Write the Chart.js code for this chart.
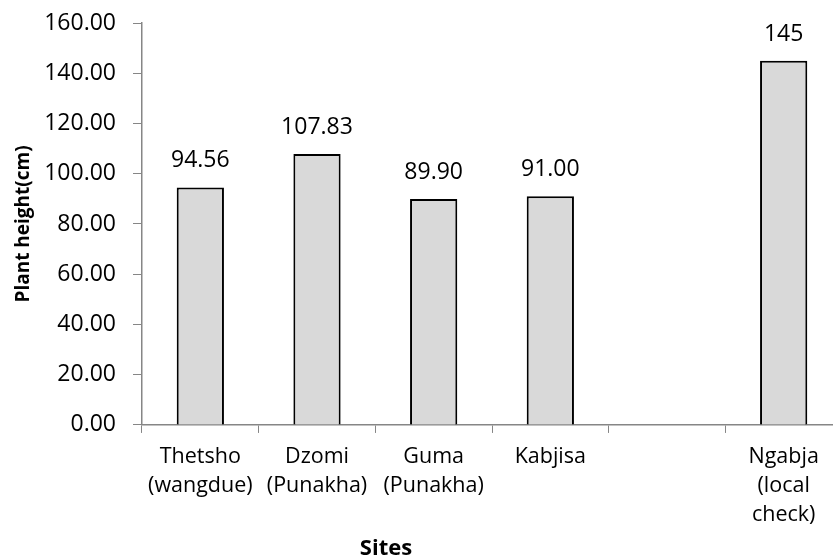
<!DOCTYPE html>
<html lang="en">
<head>
  <meta charset="UTF-8" />
  <title>Plant height by site</title>
  <script src="https://cdn.jsdelivr.net/npm/chart.js"></script>
  <style>
    html, body {
      margin: 0;
      padding: 0;
      background: #ffffff;
      overflow: hidden;
    }
    .wrap {
      position: relative;
      width: 842px;
      height: 557px;
    }
  </style>
</head>
<body>
  <div class="wrap">
    <canvas id="heightChart" width="842" height="557"></canvas>
  </div>

  <script>
    const sites = [
      ['Thetsho', '(wangdue)'],
      ['Dzomi', '(Punakha)'],
      ['Guma', '(Punakha)'],
      ['Kabjisa'],
      '',
      ['Ngabja', '(local', 'check)']
    ];
    const plantHeight = [94.56, 107.83, 89.90, 91.00, null, 145];
    const labelDigits = [2, 2, 2, 2, 2, 0];
    const yTicks = [0, 20, 40, 60, 80, 100, 120, 140, 160];

    const axisGrey = '#868686';
    const fontFamily = "'Open Sans', sans-serif";

    // value printed above each bar
    const barValues = {
      id: 'barValues',
      afterDatasetsDraw(chart) {
        const ctx = chart.ctx;
        const meta = chart.getDatasetMeta(0);
        ctx.save();
        ctx.font = '23px ' + fontFamily;
        ctx.fillStyle = '#000';
        ctx.textAlign = 'center';
        ctx.textBaseline = 'alphabetic';
        meta.data.forEach((bar, i) => {
          const v = plantHeight[i];
          if (v == null) return;
          ctx.fillText(v.toFixed(labelDigits[i]), bar.x, bar.y - 20);
        });
        ctx.restore();
      }
    };

    // "Sites" axis title sits left of the scale centre
    const sitesTitle = {
      id: 'sitesTitle',
      afterDraw(chart) {
        const ctx = chart.ctx;
        ctx.save();
        ctx.font = 'bold 22px ' + fontFamily;
        ctx.fillStyle = '#000';
        ctx.textAlign = 'center';
        ctx.textBaseline = 'alphabetic';
        ctx.fillText('Sites', chart.chartArea.left + 244, chart.height - 2);
        ctx.restore();
      }
    };

    new Chart(document.getElementById('heightChart'), {
      type: 'bar',
      data: {
        labels: sites,
        datasets: [{
          data: plantHeight,
          backgroundColor: '#d9d9d9',
          borderColor: '#000000',
          borderWidth: 2,
          barPercentage: 0.405,
          categoryPercentage: 1
        }]
      },
      options: {
        responsive: false,
        animation: false,
        layout: { padding: { top: 23, right: 0, bottom: 19, left: 0 } },
        plugins: {
          legend: { display: false },
          tooltip: { enabled: false }
        },
        scales: {
          x: {
            grid: {
              drawOnChartArea: false,
              drawTicks: true,
              tickLength: 8,
              color: axisGrey,
              offset: true
            },
            border: { color: axisGrey, width: 1.5 },
            ticks: {
              color: '#000',
              padding: 9,
              maxRotation: 0,
              autoSkip: false,
              font: { family: fontFamily, size: 21.5, lineHeight: 1.35 }
            }
          },
          y: {
            min: 0,
            max: 160,
            afterFit(scale) {
              scale.width = 142;
              scale.paddingTop = 0;
              scale.paddingBottom = 0;
            },
            afterBuildTicks(scale) { scale.ticks = yTicks.map(v => ({ value: v })); },
            grid: {
              drawOnChartArea: false,
              drawTicks: true,
              tickLength: 9,
              color: axisGrey
            },
            border: { color: axisGrey, width: 1.5 },
            ticks: {
              color: '#000',
              padding: 17,
              font: { family: fontFamily, size: 23 },
              callback: v => Number(v).toFixed(2)
            },
            title: {
              display: true,
              text: 'Plant height(cm)',
              color: '#000',
              padding: { top: 12, bottom: 0 },
              font: { family: fontFamily, size: 19, weight: 'bold' }
            }
          }
        }
      },
      plugins: [barValues, sitesTitle]
    });
  </script>
</body>
</html>
